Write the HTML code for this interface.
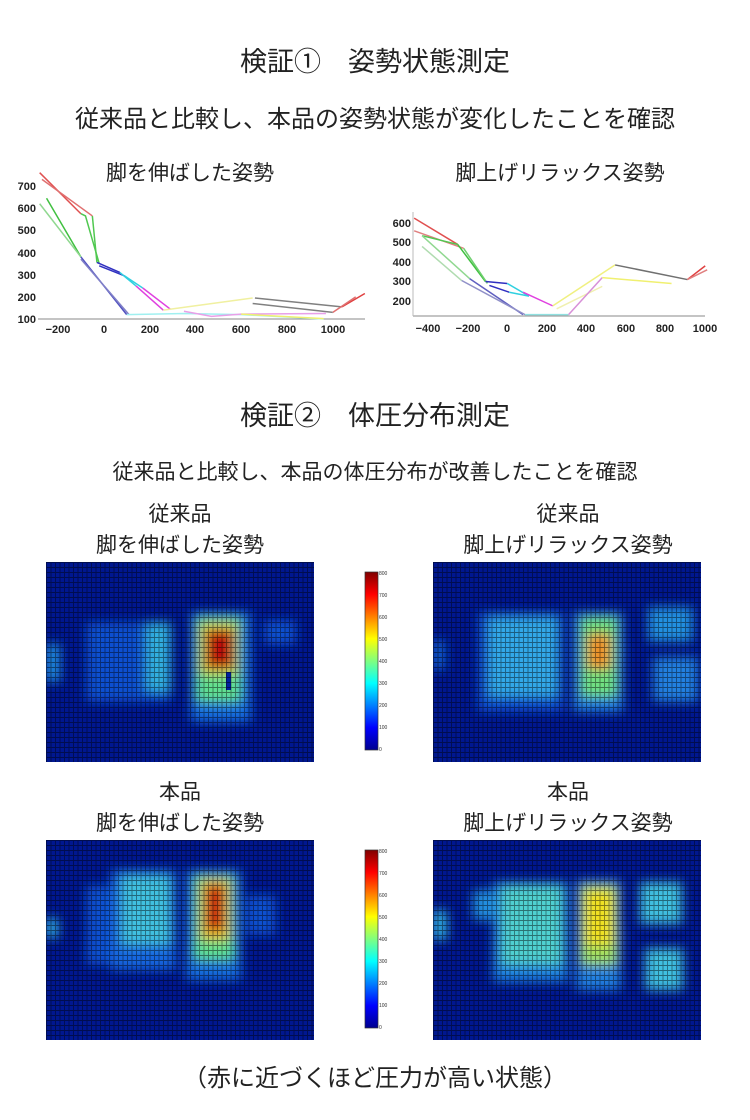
<!DOCTYPE html>
<html><head><meta charset="utf-8">
<style>
body{margin:0;background:#fff;width:750px;height:1120px;position:relative;overflow:hidden;font-family:"Liberation Sans","Noto Sans CJK JP",sans-serif;color:#222}
.t{position:absolute;left:0;width:750px;text-align:center;white-space:nowrap;line-height:1}
.a{position:absolute;text-align:center;white-space:nowrap}
svg{position:absolute}
</style></head><body>
<div class="t" style="top:49px;font-size:27px">検証①　姿勢状態測定</div>
<div class="t" style="top:108px;font-size:24px">従来品と比較し、本品の姿勢状態が変化したことを確認</div>
<div class="a" style="left:40px;width:300px;top:163px;font-size:21px;line-height:1">脚を伸ばした姿勢</div>
<div class="a" style="left:410px;width:300px;top:163px;font-size:21px;line-height:1">脚上げリラックス姿勢</div>

<svg style="left:0;top:150px" width="375" height="200" viewBox="0 150 375 200">
<g font-family="Liberation Sans" font-weight="bold" font-size="11" fill="#222">
<text x="36" y="190" text-anchor="end">700</text><text x="36" y="212" text-anchor="end">600</text><text x="36" y="234" text-anchor="end">500</text><text x="36" y="257" text-anchor="end">400</text><text x="36" y="279" text-anchor="end">300</text><text x="36" y="301" text-anchor="end">200</text><text x="36" y="323" text-anchor="end">100</text>
<g text-anchor="middle"><text x="58" y="333">−200</text><text x="104" y="333">0</text><text x="150" y="333">200</text><text x="195" y="333">400</text><text x="241" y="333">600</text><text x="287" y="333">800</text><text x="333" y="333">1000</text></g>
</g>
<line x1="38" y1="319" x2="365" y2="319" stroke="#888" stroke-width="1"/>
<g transform="matrix(0.229 0 0 -0.2217 103.8 341.2)" fill="none" stroke-width="1.5">
<polyline points="-280,760 -100,575" stroke="#e05050" vector-effect="non-scaling-stroke"/>
<polyline points="-270,730 -50,565" stroke="#e07070" vector-effect="non-scaling-stroke"/>
<polyline points="-250,645 -100,380" stroke="#40c040" vector-effect="non-scaling-stroke"/>
<polyline points="-280,620 -100,380" stroke="#90d890" vector-effect="non-scaling-stroke"/>
<polyline points="-100,575 -80,565 -20,350" stroke="#50c850" vector-effect="non-scaling-stroke"/>
<polyline points="-50,565 -30,355" stroke="#50c850" vector-effect="non-scaling-stroke"/>
<polyline points="-100,380 100,120" stroke="#5050c0" vector-effect="non-scaling-stroke"/>
<polyline points="-100,370 110,120" stroke="#8080c8" vector-effect="non-scaling-stroke"/>
<polyline points="-30,355 70,310" stroke="#3030c0" vector-effect="non-scaling-stroke"/>
<polyline points="-20,340 90,295" stroke="#3030c0" vector-effect="non-scaling-stroke"/>
<polyline points="70,310 140,250" stroke="#30d0e0" vector-effect="non-scaling-stroke"/>
<polyline points="90,295 170,240" stroke="#30d0e0" vector-effect="non-scaling-stroke"/>
<polyline points="140,250 260,140" stroke="#e040e0" vector-effect="non-scaling-stroke"/>
<polyline points="170,240 290,145" stroke="#e040e0" vector-effect="non-scaling-stroke"/>
<polyline points="100,120 350,125 600,120 960,100" stroke="#a0f0f0" vector-effect="non-scaling-stroke"/>
<polyline points="260,140 650,195" stroke="#f0f0a0" vector-effect="non-scaling-stroke"/>
<polyline points="350,135 470,112 600,122 970,125" stroke="#e8a0e8" vector-effect="non-scaling-stroke"/>
<polyline points="600,122 960,102" stroke="#f0f070" vector-effect="non-scaling-stroke"/>
<polyline points="660,195 1040,155" stroke="#808080" vector-effect="non-scaling-stroke"/>
<polyline points="650,170 1000,130" stroke="#808080" vector-effect="non-scaling-stroke"/>
<polyline points="1040,155 1140,215" stroke="#e04040" vector-effect="non-scaling-stroke"/>
<polyline points="1000,130 1100,200" stroke="#e07070" vector-effect="non-scaling-stroke"/>
</g>
</svg>

<svg style="left:375px;top:200px" width="375" height="145" viewBox="375 200 375 145">
<g font-family="Liberation Sans" font-weight="bold" font-size="11" fill="#222">
<text x="411" y="227" text-anchor="end">600</text><text x="411" y="246" text-anchor="end">500</text><text x="411" y="266" text-anchor="end">400</text><text x="411" y="285" text-anchor="end">300</text><text x="411" y="305" text-anchor="end">200</text>
<g text-anchor="middle"><text x="428" y="332">−400</text><text x="468" y="332">−200</text><text x="507" y="332">0</text><text x="547" y="332">200</text><text x="586" y="332">400</text><text x="626" y="332">600</text><text x="665" y="332">800</text><text x="705" y="332">1000</text></g>
</g>
<line x1="413" y1="316" x2="705" y2="316" stroke="#888"/>
<line x1="413" y1="212" x2="413" y2="316" stroke="#bbb"/>
<g transform="matrix(0.198 0 0 -0.195 507.2 340)" fill="none" stroke-width="1.5">
<polyline points="-470,625 -250,490" stroke="#e05050" vector-effect="non-scaling-stroke"/>
<polyline points="-470,560 -220,470" stroke="#e08080" vector-effect="non-scaling-stroke"/>
<polyline points="-430,535 -250,490" stroke="#50c850" vector-effect="non-scaling-stroke"/>
<polyline points="-250,490 -110,300" stroke="#40c040" vector-effect="non-scaling-stroke"/>
<polyline points="-220,470 -100,290" stroke="#70d070" vector-effect="non-scaling-stroke"/>
<polyline points="-430,535 -190,315" stroke="#90d890" vector-effect="non-scaling-stroke"/>
<polyline points="-430,480 -230,305" stroke="#b0dcb0" vector-effect="non-scaling-stroke"/>
<polyline points="-190,315 80,130" stroke="#6060c0" vector-effect="non-scaling-stroke"/>
<polyline points="-230,305 90,130" stroke="#9090c8" vector-effect="non-scaling-stroke"/>
<polyline points="-110,300 0,290" stroke="#3030c0" vector-effect="non-scaling-stroke"/>
<polyline points="-90,280 10,245" stroke="#3030c0" vector-effect="non-scaling-stroke"/>
<polyline points="0,290 110,225" stroke="#30d0e0" vector-effect="non-scaling-stroke"/>
<polyline points="10,245 110,225" stroke="#30d0e0" vector-effect="non-scaling-stroke"/>
<polyline points="80,245 230,175" stroke="#e040e0" vector-effect="non-scaling-stroke"/>
<polyline points="90,130 310,130" stroke="#90e0e0" vector-effect="non-scaling-stroke"/>
<polyline points="230,175 545,385" stroke="#f0f080" vector-effect="non-scaling-stroke"/>
<polyline points="250,160 480,275" stroke="#f0f0b0" vector-effect="non-scaling-stroke"/>
<polyline points="310,130 480,320" stroke="#d890d8" vector-effect="non-scaling-stroke"/>
<polyline points="480,320 830,290" stroke="#f0f070" vector-effect="non-scaling-stroke"/>
<polyline points="545,385 910,310" stroke="#707070" vector-effect="non-scaling-stroke"/>
<polyline points="910,310 1000,380" stroke="#e04040" vector-effect="non-scaling-stroke"/>
<polyline points="910,310 1010,360" stroke="#e08080" vector-effect="non-scaling-stroke"/>
</g>
</svg>

<div class="t" style="top:403px;font-size:27px">検証②　体圧分布測定</div>
<div class="t" style="top:462px;font-size:21px">従来品と比較し、本品の体圧分布が改善したことを確認</div>
<div class="a" style="left:30px;width:300px;top:499px;font-size:21px;line-height:31px">従来品<br>脚を伸ばした姿勢</div>
<div class="a" style="left:418px;width:300px;top:499px;font-size:21px;line-height:31px">従来品<br>脚上げリラックス姿勢</div>
<div class="a" style="left:30px;width:300px;top:777px;font-size:21px;line-height:31px">本品<br>脚を伸ばした姿勢</div>
<div class="a" style="left:418px;width:300px;top:777px;font-size:21px;line-height:31px">本品<br>脚上げリラックス姿勢</div>
<div class="t" style="top:1067px;font-size:24px">（赤に近づくほど圧力が高い状態）</div>

<svg width="0" height="0" style="left:0;top:0">
<defs>
<pattern id="grid" width="4.5" height="5" patternUnits="userSpaceOnUse">
<path d="M0 0.5H4.5M0.5 0V5" stroke="#000" stroke-opacity="0.45" stroke-width="0.9" fill="none"/>
</pattern>
<filter id="bl" x="-50%" y="-50%" width="200%" height="200%"><feGaussianBlur stdDeviation="5.5"/></filter>
<linearGradient id="jet" x1="0" y1="1" x2="0" y2="0">
<stop offset="0" stop-color="#00008f"/><stop offset="0.125" stop-color="#0000ff"/><stop offset="0.375" stop-color="#00ffff"/><stop offset="0.625" stop-color="#ffff00"/><stop offset="0.875" stop-color="#ff0000"/><stop offset="1" stop-color="#800000"/>
</linearGradient>
</defs>
</svg>

<svg style="left:46px;top:562px" width="268" height="200">
<rect width="268" height="200" fill="#00178f"/>
<g filter="url(#bl)">
<rect x="0" y="82" width="14" height="38" fill="#2090e0"/>
<rect x="40" y="60" width="85" height="80" fill="#1050d0"/>
<rect x="100" y="60" width="25" height="70" fill="#30b0e0"/>
<rect x="145" y="50" width="60" height="110" fill="#1870e0"/>
<rect x="150" y="55" width="45" height="85" fill="#60e090"/>
<rect x="155" y="62" width="35" height="50" fill="#e0d020"/>
<rect x="160" y="68" width="28" height="38" fill="#c01010"/>
<rect x="218" y="58" width="32" height="25" fill="#1050d0"/>
</g>
<rect x="180" y="110" width="5" height="18" fill="#0020a0"/>
<rect width="268" height="200" fill="url(#grid)"/>
</svg>
<svg style="left:433px;top:562px" width="268" height="200">
<rect width="268" height="200" fill="#00178f"/>
<g filter="url(#bl)">
<rect x="0" y="78" width="12" height="30" fill="#1060d0"/>
<rect x="45" y="50" width="85" height="100" fill="#1050d0"/>
<rect x="55" y="55" width="70" height="80" fill="#30a8e8"/>
<rect x="140" y="50" width="50" height="100" fill="#2080e0"/>
<rect x="148" y="55" width="36" height="80" fill="#70e080"/>
<rect x="155" y="72" width="22" height="35" fill="#f09020"/>
<rect x="215" y="45" width="45" height="35" fill="#2090e0"/>
<rect x="220" y="95" width="45" height="45" fill="#2080e0"/>
</g>
<rect width="268" height="200" fill="url(#grid)"/>
</svg>
<svg style="left:46px;top:840px" width="268" height="200">
<rect width="268" height="200" fill="#00178f"/>
<g filter="url(#bl)">
<rect x="0" y="78" width="12" height="20" fill="#30b0e0"/>
<rect x="40" y="45" width="30" height="80" fill="#1050d0"/>
<rect x="65" y="30" width="65" height="100" fill="#1868e0"/>
<rect x="75" y="35" width="50" height="70" fill="#40c0e0"/>
<rect x="140" y="30" width="55" height="110" fill="#1870e0"/>
<rect x="148" y="35" width="40" height="85" fill="#60e090"/>
<rect x="155" y="40" width="28" height="60" fill="#e8c020"/>
<rect x="160" y="45" width="18" height="45" fill="#c81010"/>
<rect x="200" y="55" width="30" height="40" fill="#1050d0"/>
</g>
<rect width="268" height="200" fill="url(#grid)"/>
</svg>
<svg style="left:433px;top:840px" width="268" height="200">
<rect width="268" height="200" fill="#00178f"/>
<g filter="url(#bl)">
<rect x="0" y="70" width="14" height="30" fill="#30b0e0"/>
<rect x="40" y="50" width="20" height="30" fill="#2090e0"/>
<rect x="60" y="42" width="75" height="100" fill="#1a80e0"/>
<rect x="68" y="45" width="62" height="80" fill="#50d0d0"/>
<rect x="143" y="40" width="45" height="110" fill="#2080e0"/>
<rect x="148" y="45" width="36" height="80" fill="#a0e060"/>
<rect x="152" y="50" width="28" height="55" fill="#f0e020"/>
<rect x="207" y="42" width="42" height="42" fill="#40c0e0"/>
<rect x="212" y="108" width="38" height="42" fill="#40c0e0"/>
</g>
<rect width="268" height="200" fill="url(#grid)"/>
</svg>

<svg style="left:355px;top:565px" width="40" height="195">
<rect x="10" y="7" width="13" height="178" fill="url(#jet)" stroke="#333" stroke-width="0.7"/>
<g font-family="Liberation Sans" font-size="5" fill="#333">
<text x="24" y="10">800</text><text x="24" y="32">700</text><text x="24" y="54">600</text><text x="24" y="76">500</text><text x="24" y="98">400</text><text x="24" y="120">300</text><text x="24" y="142">200</text><text x="24" y="164">100</text><text x="24" y="186">0</text>
</g></svg>
<svg style="left:355px;top:843px" width="40" height="195">
<rect x="10" y="7" width="13" height="178" fill="url(#jet)" stroke="#333" stroke-width="0.7"/>
<g font-family="Liberation Sans" font-size="5" fill="#333">
<text x="24" y="10">800</text><text x="24" y="32">700</text><text x="24" y="54">600</text><text x="24" y="76">500</text><text x="24" y="98">400</text><text x="24" y="120">300</text><text x="24" y="142">200</text><text x="24" y="164">100</text><text x="24" y="186">0</text>
</g></svg>
</body></html>
